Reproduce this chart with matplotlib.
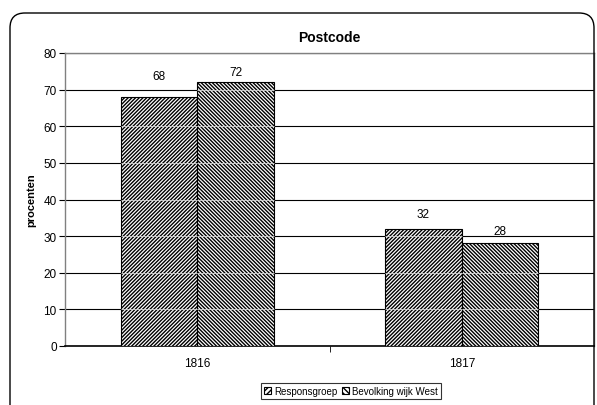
import matplotlib
matplotlib.use("Agg")
import matplotlib.pyplot as plt
from matplotlib.patches import FancyBboxPatch, Patch
import numpy as np

categories = ["1816", "1817"]
responsgroep = [68, 32]
bevolking = [72, 28]
series_names = ["Responsgroep", "Bevolking wijk West"]
title = "Postcode"
ylabel = "procenten"

# label offsets above bar tops (points), per series then category
label_offsets = [[10.5, 6], [3, 5]]

plt.rcParams['font.family'] = ['Liberation Sans', 'DejaVu Sans']
plt.rcParams['hatch.linewidth'] = 1.0

W, H = 597, 406
fig = plt.figure(figsize=(W/100, H/100), dpi=100)

# outer rounded frame
frame = FancyBboxPatch((10/W, -0.05), (594-10)/W, (406-14)/H + 0.05,
                       boxstyle="round,pad=0,rounding_size=0.025",
                       transform=fig.transFigure, fill=False, edgecolor='black',
                       linewidth=1.0, mutation_aspect=W/H)
fig.patches.append(frame)

ax = fig.add_axes([65/W, 1-347/H, (594-65)/W, (347-54)/H])
x = np.arange(len(categories))
bw = 0.289
b1 = ax.bar(x - bw/2, responsgroep, bw, color='white', edgecolor='black',
            hatch='/' * 9, linewidth=0.8, zorder=3)
b2 = ax.bar(x + bw/2, bevolking, bw, color='white', edgecolor='black',
            hatch='\\' * 9, linewidth=0.8, zorder=3)

yt = list(range(0, 81, 10))
for si, (bars, vals) in enumerate(((b1, responsgroep), (b2, bevolking))):
    for ci, (r, v) in enumerate(zip(bars, vals)):
        ax.annotate(str(v), (r.get_x() + r.get_width()/2, v),
                    xytext=(0, label_offsets[si][ci]),
                    textcoords='offset points', ha='center', va='bottom', fontsize=8.5)
        # faint gridlines visible through the bars
        for yv in yt[1:]:
            if yv < v:
                ax.hlines(yv, r.get_x(), r.get_x() + r.get_width(), color='#d8d8d8',
                          linewidth=0.6, zorder=4)

ax.set_xlim(-0.5, 1.5)
ax.set_ylim(0, 80)
ax.set_yticks(yt)
ax.yaxis.grid(True, color='black', linewidth=0.8, zorder=0)
ax.set_axisbelow(True)
ax.set_xticks(x)
ax.set_xticklabels(categories, fontsize=8.5)
ax.set_xticks([0.5], minor=True)
ax.tick_params(axis='x', which='major', length=0, pad=8)
ax.tick_params(axis='x', which='minor', length=4, direction='out')
ax.tick_params(axis='y', length=4, direction='out', labelsize=8.5, pad=2)
for s in ('top', 'right', 'left'):
    ax.spines[s].set_color('#808080')
    ax.spines[s].set_linewidth(1.0)
ax.spines['bottom'].set_color('black')
ax.spines['bottom'].set_linewidth(1.2)
ax.set_ylabel(ylabel, fontsize=8, fontweight='bold', labelpad=5)
ax.set_title(title, fontsize=10, fontweight='bold', pad=9)

handles = [Patch(facecolor='white', edgecolor='black', hatch='//////', linewidth=0.8),
           Patch(facecolor='white', edgecolor='black', hatch='\\\\\\\\\\\\', linewidth=0.8)]
leg = fig.legend(handles, series_names, loc='center', bbox_to_anchor=(351/W, 1-392/H),
                 ncol=2, fontsize=7, frameon=True, fancybox=False, edgecolor='black',
                 handlelength=0.7, handleheight=0.7, handletextpad=0.3,
                 columnspacing=0.5, borderpad=0.35, borderaxespad=0)
leg.get_frame().set_linewidth(0.8)

fig.savefig("out.png", dpi=100)
